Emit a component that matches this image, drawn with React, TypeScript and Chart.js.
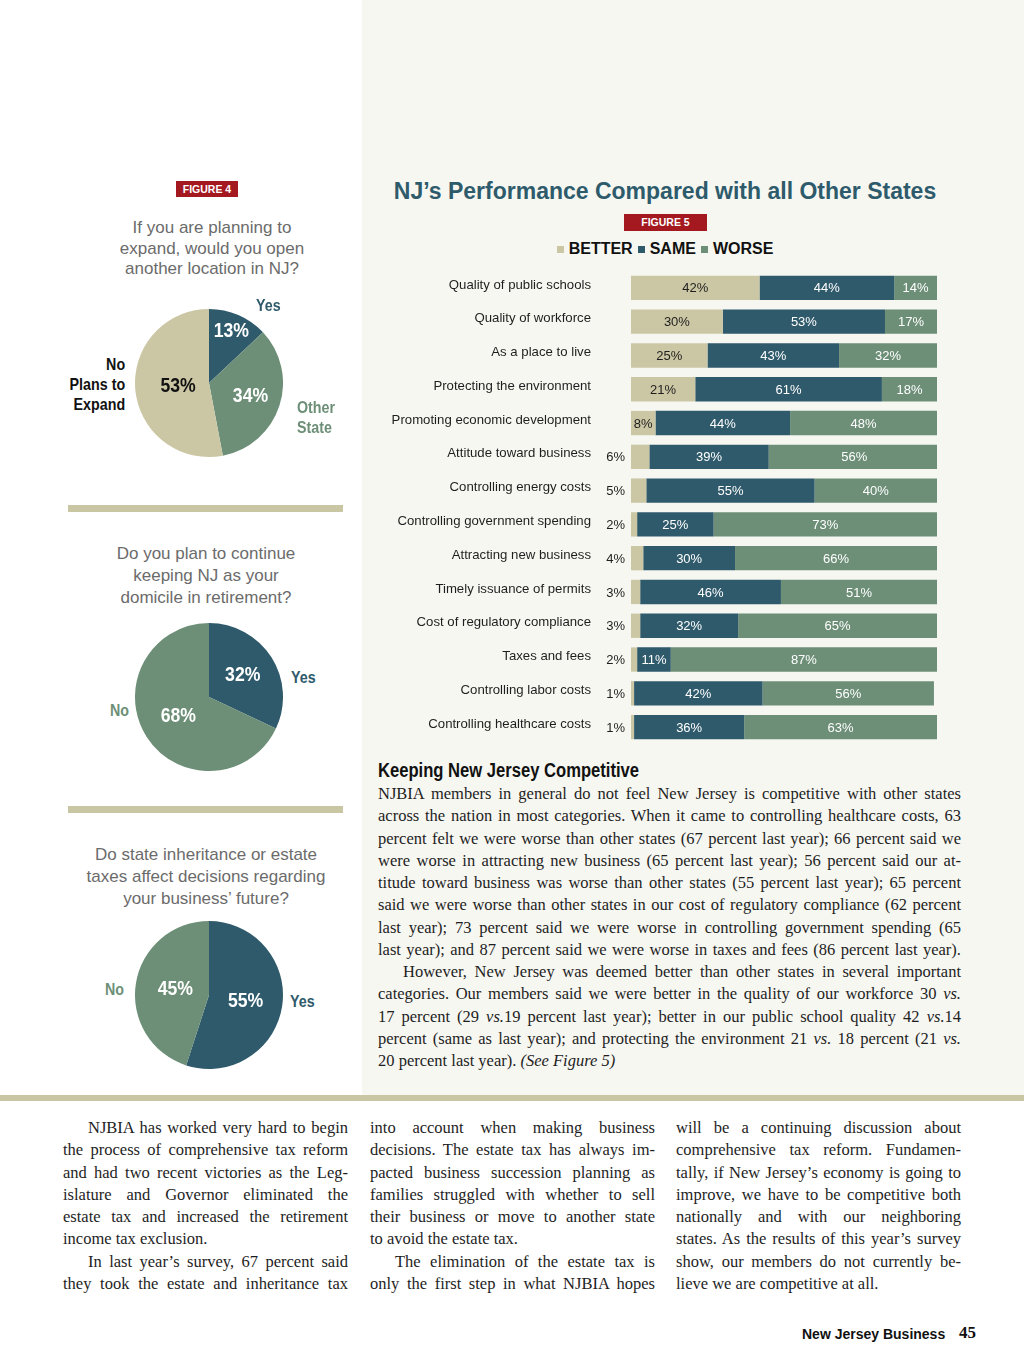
import React, { useEffect, useRef } from "react";
import { Chart, registerables } from "chart.js";

Chart.register(...registerables);

// ---------- DATA ----------
const categories = [
  "Quality of public schools",
  "Quality of workforce",
  "As a place to live",
  "Protecting the environment",
  "Promoting economic development",
  "Attitude toward business",
  "Controlling energy costs",
  "Controlling government spending",
  "Attracting new business",
  "Timely issuance of permits",
  "Cost of regulatory compliance",
  "Taxes and fees",
  "Controlling labor costs",
  "Controlling healthcare costs",
];
const seriesNames = ["BETTER", "SAME", "WORSE"];
const betterValues = [42, 30, 25, 21, 8, 6, 5, 2, 4, 3, 3, 2, 1, 1];
const sameValues = [44, 53, 43, 61, 44, 39, 55, 25, 30, 46, 32, 11, 42, 36];
const worseValues = [14, 17, 32, 18, 48, 56, 40, 73, 66, 51, 65, 87, 56, 63];

const pie1Labels = ["Yes", "Other State", "No Plans to Expand"];
const pie1Values = [13, 34, 53];
const pie2Labels = ["Yes", "No"];
const pie2Values = [32, 68];
const pie3Labels = ["Yes", "No"];
const pie3Values = [55, 45];

// ---------- STYLE ----------
const BEIGE = "#cbc7a4";
const TEAL = "#2f5a6b";
const GREEN = "#6d8f77";
const RED = "#a3191f";
const SANS = "'Liberation Sans', Arial, Helvetica, sans-serif";
const SERIF = "'Liberation Serif', 'Times New Roman', serif";
const NARROW_SCALE = 0.84;

type Line = { t: string; last?: boolean; indent?: boolean };

const rightPara: Line[] = [
  { t: "NJBIA members in general do not feel New Jersey is competitive with other states" },
  { t: "across the nation in most categories. When it came to controlling healthcare costs, 63" },
  { t: "percent felt we were worse than other states (67 percent last year); 66 percent said we" },
  { t: "were worse in attracting new business (65 percent last year); 56 percent said our at-" },
  { t: "titude toward business was worse than other states (55 percent last year); 65 percent" },
  { t: "said we were worse than other states in our cost of regulatory compliance (62 percent" },
  { t: "last year); 73 percent said we were worse in controlling government spending (65" },
  { t: "last year); and 87 percent said we were worse in taxes and fees (86 percent last year)." },
  { t: "However, New Jersey was deemed better than other states in several important", indent: true },
  { t: "categories. Our members said we were better in the quality of our workforce 30 |vs.|" },
  { t: "17 percent (29 |vs.|19 percent last year); better in our public school quality 42 |vs.|14" },
  { t: "percent (same as last year); and protecting the environment 21 |vs.| 18 percent (21 |vs.|" },
  { t: "20 percent last year). |(See Figure 5)|", last: true },
];

const col1: Line[] = [
  { t: "NJBIA has worked very hard to begin", indent: true },
  { t: "the process of comprehensive tax reform" },
  { t: "and had two recent victories as the Leg-" },
  { t: "islature and Governor eliminated the" },
  { t: "estate tax and increased the retirement" },
  { t: "income tax exclusion.", last: true },
  { t: "In last year’s survey, 67 percent said", indent: true },
  { t: "they took the estate and inheritance tax" },
];
const col2: Line[] = [
  { t: "into account when making business" },
  { t: "decisions. The estate tax has always im-" },
  { t: "pacted business succession planning as" },
  { t: "families struggled with whether to sell" },
  { t: "their business or move to another state" },
  { t: "to avoid the estate tax.", last: true },
  { t: "The elimination of the estate tax is", indent: true },
  { t: "only the first step in what NJBIA hopes" },
];
const col3: Line[] = [
  { t: "will be a continuing discussion about" },
  { t: "comprehensive tax reform. Fundamen-" },
  { t: "tally, if New Jersey’s economy is going to" },
  { t: "improve, we have to be competitive both" },
  { t: "nationally and with our neighboring" },
  { t: "states. As the results of this year’s survey" },
  { t: "show, our members do not currently be-" },
  { t: "lieve we are competitive at all.", last: true },
];

// ---------- COMPONENTS ----------
function Segs({ t }: { t: string }) {
  const parts = t.split("|");
  return (
    <>
      {parts.map((p, i) => (i % 2 === 1 ? <i key={i}>{p}</i> : <span key={i}>{p}</span>))}
    </>
  );
}

function TextBlock({ lines, left, top, width, lh, size }: { lines: Line[]; left: number; top: number; width: number; lh: number; size: number }) {
  return (
    <div style={{ position: "absolute", left, top, width, fontFamily: SERIF, fontSize: size, lineHeight: `${lh}px`, color: "#1e1e1e" }}>
      {lines.map((l, i) => (
        <div
          key={i}
          style={{
            height: lh,
            whiteSpace: "nowrap",
            textAlign: l.last ? "left" : "justify",
            textAlignLast: l.last ? "left" : "justify",
            paddingLeft: l.indent ? 25 : 0,
          }}
        >
          <Segs t={l.t} />
        </div>
      ))}
    </div>
  );
}

function Lbl({
  text,
  left,
  cy,
  color,
  align = "left",
  size = 17,
  lh = 20,
}: {
  text: string[];
  left: number;
  cy: number;
  color: string;
  align?: "left" | "right";
  size?: number;
  lh?: number;
}) {
  const style: React.CSSProperties = {
    position: "absolute",
    top: cy - (lh * text.length) / 2,
    fontFamily: SANS,
    fontWeight: "bold",
    fontSize: size,
    lineHeight: `${lh}px`,
    color,
    textAlign: align,
    whiteSpace: "nowrap",
    transform: `scaleX(${NARROW_SCALE})`,
    transformOrigin: align === "right" ? "right center" : "left center",
  };
  if (align === "right") style.right = 1024 - left;
  else style.left = left;
  return (
    <div style={style}>
      {text.map((t, i) => (
        <div key={i}>{t}</div>
      ))}
    </div>
  );
}

function PieChart({
  labels,
  values,
  colors,
  textColors,
  dist,
  cx,
  cy,
  r,
}: {
  labels: string[];
  values: number[];
  colors: string[];
  textColors: string[];
  dist: number[];
  cx: number;
  cy: number;
  r: number;
}) {
  const ref = useRef<HTMLCanvasElement>(null);
  useEffect(() => {
    const chart = new Chart(ref.current!, {
      type: "pie",
      data: { labels, datasets: [{ data: values, backgroundColor: colors, borderWidth: 0 }] },
      options: {
        responsive: false,
        animation: false,
        layout: { padding: 0 },
        plugins: { legend: { display: false }, tooltip: { enabled: false } },
      },
      plugins: [
        {
          id: "pieValueLabels",
          afterDatasetsDraw(c: any) {
            const meta = c.getDatasetMeta(0);
            const ctx = c.ctx;
            meta.data.forEach((arc: any, i: number) => {
              const p = arc.getProps(["x", "y", "startAngle", "endAngle", "outerRadius"], true);
              const mid = (p.startAngle + p.endAngle) / 2;
              const rr = p.outerRadius * dist[i];
              ctx.save();
              ctx.translate(p.x + Math.cos(mid) * rr, p.y + Math.sin(mid) * rr);
              ctx.scale(NARROW_SCALE, 1);
              ctx.font = `bold 21px ${SANS}`;
              ctx.textAlign = "center";
              ctx.textBaseline = "middle";
              ctx.fillStyle = textColors[i];
              ctx.fillText(values[i] + "%", 0, 0);
              ctx.restore();
            });
          },
        },
      ],
    } as any);
    return () => chart.destroy();
  }, []);
  return (
    <canvas
      ref={ref}
      width={r * 2}
      height={r * 2}
      style={{ position: "absolute", left: cx - r, top: cy - r, width: r * 2, height: r * 2 }}
    />
  );
}

function BarChart() {
  const ref = useRef<HTMLCanvasElement>(null);
  useEffect(() => {
    const valuePlugin = {
      id: "barValueLabels",
      afterDatasetsDraw(c: any) {
        const ctx = c.ctx;
        ctx.save();
        ctx.font = `13px ${SANS}`;
        ctx.textBaseline = "middle";
        c.data.datasets.forEach((ds: any, di: number) => {
          const meta = c.getDatasetMeta(di);
          meta.data.forEach((bar: any, i: number) => {
            const v = ds.data[i];
            const p = bar.getProps(["x", "y", "base"], true);
            const txt = v + "%";
            if (di === 0 && v < 7) {
              ctx.textAlign = "right";
              ctx.fillStyle = "#1e1e1e";
              ctx.fillText(txt, c.chartArea.left - 6, p.y + 1);
            } else {
              ctx.textAlign = "center";
              ctx.fillStyle = di === 0 ? "#1e1e1e" : "#ffffff";
              ctx.fillText(txt, (p.x + p.base) / 2, p.y + 1);
            }
          });
        });
        ctx.restore();
      },
    };
    const mk = (label: string, data: number[], color: string) => ({
      label,
      data,
      backgroundColor: color,
      borderWidth: 0,
      barPercentage: 0.72,
      categoryPercentage: 1,
    });
    const chart = new Chart(ref.current!, {
      type: "bar",
      data: {
        labels: categories,
        datasets: [
          mk(seriesNames[0], betterValues, BEIGE),
          mk(seriesNames[1], sameValues, TEAL),
          mk(seriesNames[2], worseValues, GREEN),
        ],
      },
      options: {
        indexAxis: "y",
        responsive: false,
        animation: false,
        layout: { padding: { top: 1, right: 13, bottom: 2, left: 0 } },
        plugins: { legend: { display: false }, tooltip: { enabled: false } },
        scales: {
          x: { stacked: true, min: 0, max: 100, display: false },
          y: {
            stacked: true,
            grid: { display: false, drawTicks: false },
            border: { display: false },
            ticks: {
              autoSkip: false,
              color: "#1e1e1e",
              font: { family: SANS, size: 13.2 },
              padding: 40,
              labelOffset: -3,
            },
            afterFit(s: any) {
              s.width = 251;
              s.paddingTop = 0;
              s.paddingBottom = 0;
            },
          },
        },
      },
      plugins: [valuePlugin],
    } as any);
    return () => chart.destroy();
  }, []);
  return (
    <canvas
      ref={ref}
      width={570}
      height={476}
      style={{ position: "absolute", left: 380, top: 270, width: 570, height: 476 }}
    />
  );
}

function Question({ lines, cx, top, lh }: { lines: string[]; cx: number; top: number; lh: number }) {
  return (
    <div
      style={{
        position: "absolute",
        left: cx - 150,
        top,
        width: 300,
        textAlign: "center",
        fontFamily: SANS,
        fontSize: 17,
        lineHeight: `${lh}px`,
        color: "#6b6b6b",
      }}
    >
      {lines.map((l, i) => (
        <div key={i}>{l}</div>
      ))}
    </div>
  );
}

function Badge({ left, top, width, height, text }: { left: number; top: number; width: number; height: number; text: string }) {
  return (
    <div
      style={{
        position: "absolute",
        left,
        top,
        width,
        height,
        background: RED,
        color: "#fff",
        fontFamily: SANS,
        fontWeight: "bold",
        fontSize: 10.5,
        lineHeight: `${height}px`,
        textAlign: "center",
      }}
    >
      {text}
    </div>
  );
}

export default function App() {
  const legendColors = [BEIGE, TEAL, GREEN];
  return (
    <div
      style={{
        position: "absolute",
        left: 0,
        top: 0,
        width: 1024,
        height: 1370,
        background: "#ffffff",
        overflow: "hidden",
        fontFamily: SANS,
      }}
    >
      {/* right panel background */}
      <div style={{ position: "absolute", left: 362, top: 0, width: 662, height: 1095, background: "#f7f7f2" }} />
      {/* rules */}
      <div style={{ position: "absolute", left: 0, top: 1095, width: 1024, height: 6, background: "#c9c7a3" }} />
      <div style={{ position: "absolute", left: 68, top: 505, width: 275, height: 7, background: "#c9c7a3" }} />
      <div style={{ position: "absolute", left: 68, top: 806, width: 275, height: 7, background: "#c9c7a3" }} />

      {/* FIGURE 4 */}
      <Badge left={176} top={181} width={62} height={16} text="FIGURE 4" />
      <Question lines={["If you are planning to", "expand, would you open", "another location in NJ?"]} cx={212} top={218} lh={20.5} />
      <PieChart
        labels={pie1Labels}
        values={pie1Values}
        colors={[TEAL, GREEN, BEIGE]}
        textColors={["#fff", "#fff", "#111"]}
        dist={[0.76, 0.59, 0.42]}
        cx={209}
        cy={383}
        r={74}
      />
      <Lbl text={["Yes"]} left={256} cy={306} color={TEAL} />
      <Lbl text={["Other", "State"]} left={297} cy={418} color={GREEN} />
      <Lbl text={["No", "Plans to", "Expand"]} left={125} cy={385} color="#111" align="right" />

      <Question lines={["Do you plan to continue", "keeping NJ as your", "domicile in retirement?"]} cx={206} top={543} lh={22} />
      <PieChart
        labels={pie2Labels}
        values={pie2Values}
        colors={[TEAL, GREEN]}
        textColors={["#fff", "#fff"]}
        dist={[0.54, 0.49]}
        cx={209}
        cy={697}
        r={74}
      />
      <Lbl text={["Yes"]} left={291} cy={678} color={TEAL} />
      <Lbl text={["No"]} left={110} cy={711} color={GREEN} />

      <Question
        lines={["Do state inheritance or estate", "taxes affect decisions regarding", "your business’ future?"]}
        cx={206}
        top={844}
        lh={22}
      />
      <PieChart
        labels={pie3Labels}
        values={pie3Values}
        colors={[TEAL, GREEN]}
        textColors={["#fff", "#fff"]}
        dist={[0.5, 0.46]}
        cx={209}
        cy={995}
        r={74}
      />
      <Lbl text={["No"]} left={105} cy={990} color={GREEN} />
      <Lbl text={["Yes"]} left={290} cy={1002} color={TEAL} />

      {/* FIGURE 5 */}
      <div
        style={{
          position: "absolute",
          left: 380,
          top: 176,
          width: 570,
          textAlign: "center",
          fontFamily: SANS,
          fontWeight: "bold",
          fontSize: 23,
          lineHeight: "30px",
          color: "#2e5b6b",
        }}
      >
        NJ’s Performance Compared with all Other States
      </div>
      <Badge left={624} top={214} width={83} height={17} text="FIGURE 5" />
      <div
        style={{
          position: "absolute",
          left: 380,
          top: 240,
          width: 570,
          height: 18,
          display: "flex",
          justifyContent: "center",
          alignItems: "center",
          fontFamily: SANS,
          fontWeight: "bold",
          fontSize: 16,
          color: "#111",
        }}
      >
        {seriesNames.map((n, i) => (
          <React.Fragment key={n}>
            <span style={{ display: "inline-block", width: 7, height: 7, background: legendColors[i], marginRight: 5, marginLeft: i ? 5 : 0 }} />
            <span>{n}</span>
          </React.Fragment>
        ))}
      </div>
      <BarChart />

      {/* Article */}
      <div
        style={{
          position: "absolute",
          left: 378,
          top: 758,
          fontFamily: SANS,
          fontWeight: "bold",
          fontSize: 20,
          lineHeight: "24px",
          color: "#111",
          whiteSpace: "nowrap",
          transform: "scaleX(0.83)",
          transformOrigin: "left center",
        }}
      >
        Keeping New Jersey Competitive
      </div>
      <TextBlock lines={rightPara} left={378} top={783} width={583} lh={22.25} size={16.5} />

      <TextBlock lines={col1} left={63} top={1117} width={285} lh={22.3} size={16.5} />
      <TextBlock lines={col2} left={370} top={1117} width={285} lh={22.3} size={16.5} />
      <TextBlock lines={col3} left={676} top={1117} width={285} lh={22.3} size={16.5} />

      {/* footer */}
      <div
        style={{
          position: "absolute",
          left: 802,
          top: 1324,
          fontFamily: SANS,
          fontWeight: "bold",
          fontSize: 14,
          lineHeight: "20px",
          color: "#111",
        }}
      >
        New Jersey Business
      </div>
      <div
        style={{
          position: "absolute",
          left: 959,
          top: 1323,
          fontFamily: SERIF,
          fontWeight: "bold",
          fontSize: 17,
          lineHeight: "20px",
          color: "#111",
        }}
      >
        45
      </div>
    </div>
  );
}
